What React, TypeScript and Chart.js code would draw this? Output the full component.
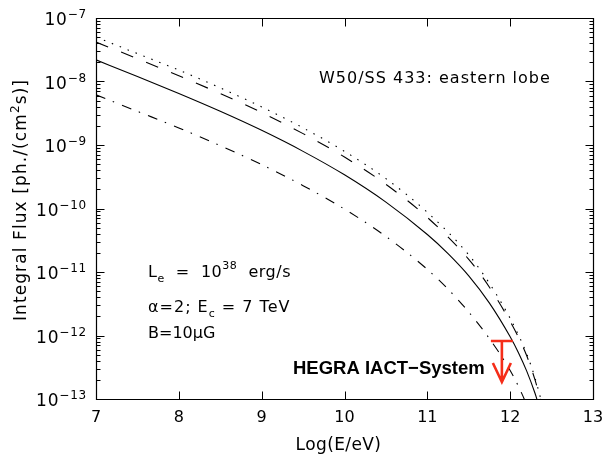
import React, { useEffect, useRef } from "react";
import { Chart, registerables } from "chart.js";

Chart.register(...registerables);

// ---- data (log10 E in eV, integral flux in ph/(cm^2 s)) ----
const solidE = [7, 7.5, 8, 8.5, 9, 9.5, 10, 10.5, 11, 11.25, 11.5, 11.75, 12, 12.1, 12.2, 12.3, 12.35];
const solidFlux = [2.19e-8, 1.2e-8, 6.46e-9, 3.39e-9, 1.7e-9, 7.94e-10, 3.39e-10, 1.26e-10, 3.89e-11, 1.95e-11, 8.71e-12, 3.24e-12, 9.55e-13, 5.37e-13, 2.75e-13, 1.23e-13, 7.59e-14];

const dashedE = [7, 7.5, 8, 8.5, 9, 9.5, 10, 10.5, 11, 11.5, 11.75, 12, 12.1, 12.2, 12.3, 12.35, 12.4];
const dashedFlux = [4.17e-8, 2.29e-8, 1.23e-8, 6.46e-9, 3.24e-9, 1.51e-9, 6.46e-10, 2.4e-10, 7.24e-11, 1.58e-11, 5.75e-12, 1.66e-12, 9.33e-13, 4.79e-13, 2.0e-13, 1.17e-13, 6.31e-14];

const dottedE = [7, 7.5, 8, 8.5, 9, 9.5, 10, 10.5, 11, 11.5, 11.75, 12, 12.1, 12.2, 12.3, 12.37, 12.45];
const dottedFlux = [5.01e-8, 2.75e-8, 1.51e-8, 7.94e-9, 3.98e-9, 1.86e-9, 7.94e-10, 2.95e-10, 8.71e-11, 1.86e-11, 6.61e-12, 1.86e-12, 1.02e-12, 5.13e-13, 2.14e-13, 1.0e-13, 3.98e-14];

const dashDotE = [7, 7.5, 8, 8.5, 9, 9.5, 10, 10.5, 11, 11.25, 11.5, 11.75, 12, 12.1, 12.2, 12.25];
const dashDotFlux = [6.17e-9, 3.39e-9, 1.86e-9, 9.77e-10, 4.9e-10, 2.29e-10, 9.77e-11, 3.63e-11, 1.1e-11, 5.37e-12, 2.34e-12, 8.91e-13, 2.82e-13, 1.58e-13, 7.94e-14, 5.01e-14];

// HEGRA IACT-System upper limit
const hegraE = 11.9;
const hegraUL = 8.2e-13;

// axes
const xTickValues = [7, 8, 9, 10, 11, 12, 13];
const yDecades = [-7, -8, -9, -10, -11, -12, -13];
const xMin = 7, xMax = 13, yMin = 1e-13, yMax = 1e-7;

const FAMILY = "'DejaVu Sans'";
const WEIGHT = "normal";
const font = (size: number, weight = WEIGHT) => `${weight} ${size}px ${FAMILY}`;

type Part = { t: string; size: number; dy?: number };

function drawRich(ctx: CanvasRenderingContext2D, parts: Part[], x: number, y: number, align: "left" | "right" | "center" = "left", spacing = "0px") {
  ctx.textAlign = "left";
  ctx.textBaseline = "alphabetic";
  (ctx as any).letterSpacing = spacing;
  const widths = parts.map((p) => {
    ctx.font = font(p.size);
    return ctx.measureText(p.t).width;
  });
  const total = widths.reduce((a, b) => a + b, 0);
  let cx = align === "right" ? x - total : align === "center" ? x - total / 2 : x;
  parts.forEach((p, i) => {
    ctx.font = font(p.size);
    ctx.fillText(p.t, cx, y + (p.dy || 0));
    cx += widths[i];
  });
  (ctx as any).letterSpacing = "0px";
}

const pts = (xs: number[], ys: number[]) => xs.map((x, i) => ({ x, y: ys[i] }));

const framePlugin = {
  id: "frameAndText",
  afterDraw(chart: any) {
    const ctx: CanvasRenderingContext2D = chart.ctx;
    const { left, right, top, bottom } = chart.chartArea;
    const xs = chart.scales.x;
    const ys = chart.scales.y;
    ctx.save();
    ctx.strokeStyle = "#000";
    ctx.fillStyle = "#000";
    ctx.lineWidth = 1.2;
    const L = Math.round(left) + 0.5, R = Math.round(right) + 0.5, T = Math.round(top) + 0.5, B = Math.round(bottom) + 0.5;
    ctx.beginPath();
    ctx.rect(L, T, R - L, B - T);
    ctx.stroke();

    ctx.lineWidth = 1;
    ctx.beginPath();
    xTickValues.forEach((v) => {
      const px = Math.round(xs.getPixelForValue(v)) + 0.5;
      ctx.moveTo(px, B);
      ctx.lineTo(px, B - 8);
      ctx.moveTo(px, T);
      ctx.lineTo(px, T + 8);
    });
    yDecades.forEach((d) => {
      const py = Math.round(ys.getPixelForValue(Math.pow(10, d))) + 0.5;
      ctx.moveTo(L, py);
      ctx.lineTo(L + 8, py);
      ctx.moveTo(R, py);
      ctx.lineTo(R - 8, py);
      if (d < -7) {
        for (let m = 2; m <= 9; m++) {
          const pm = Math.round(ys.getPixelForValue(m * Math.pow(10, d))) + 0.5;
          ctx.moveTo(L, pm);
          ctx.lineTo(L + 4, pm);
          ctx.moveTo(R, pm);
          ctx.lineTo(R - 4, pm);
        }
      }
    });
    ctx.stroke();

    // y tick labels 10^-n
    yDecades.forEach((d) => {
      const py = ys.getPixelForValue(Math.pow(10, d));
      drawRich(ctx, [
        { t: "10", size: 17, dy: 7 },
        { t: "\u2212" + String(-d), size: 12, dy: 0 },
      ], left - 9, py, "right", "0.8px");
    });

    // y title
    ctx.save();
    ctx.translate(26, 200);
    ctx.rotate(-Math.PI / 2);
    drawRich(ctx, [
      { t: "Integral Flux [ph./(cm", size: 17 },
      { t: "2", size: 12, dy: -7 },
      { t: "s)]", size: 17 },
    ], 0, 0, "center", "1.1px");
    ctx.restore();

    // x title
    drawRich(ctx, [{ t: "Log(E/eV)", size: 17 }], (left + right) / 2 - 6, 450, "center", "0.4px");

    // annotations
    drawRich(ctx, [{ t: "W50/SS 433: eastern lobe", size: 16 }], 319, 83, "left", "1px");
    drawRich(ctx, [
      { t: "L", size: 16 },
      { t: "e", size: 11, dy: 5 },
      { t: "  =  10", size: 16 },
      { t: "38", size: 11, dy: -8 },
      { t: "  erg/s", size: 16 },
    ], 148, 277, "left", "0.5px");
    drawRich(ctx, [
      { t: "\u03b1=2; E", size: 16 },
      { t: "c", size: 11, dy: 5 },
      { t: " = 7 TeV", size: 16 },
    ], 148, 312, "left", "1px");
    drawRich(ctx, [{ t: "B=10\u03bcG", size: 16 }], 148, 338, "left", "0px");

    // HEGRA label
    ctx.font = "bold 18.5px 'Liberation Sans', Arial, sans-serif";
    ctx.textAlign = "left";
    ctx.textBaseline = "alphabetic";
    ctx.fillText("HEGRA IACT\u2212System", 293, 374);

    // HEGRA upper limit arrow
    const hx = xs.getPixelForValue(hegraE);
    const hy = ys.getPixelForValue(hegraUL);
    ctx.strokeStyle = "rgb(245,45,25)";
    ctx.lineWidth = 2.6;
    ctx.lineCap = "butt";
    ctx.beginPath();
    ctx.moveTo(hx - 11, hy);
    ctx.lineTo(hx + 11, hy);
    ctx.moveTo(hx, hy);
    ctx.lineTo(hx, hy + 40);
    ctx.moveTo(hx - 9, hy + 22);
    ctx.lineTo(hx, hy + 41);
    ctx.lineTo(hx + 9, hy + 22);
    ctx.stroke();

    ctx.restore();
  },
};

export default function App() {
  const ref = useRef<HTMLCanvasElement | null>(null);
  useEffect(() => {
    if (!ref.current) return;
    const common = {
      borderColor: "#000",
      borderWidth: 1.1,
      pointRadius: 0,
      fill: false,
      cubicInterpolationMode: "monotone" as const,
    };
    const chart = new Chart(ref.current, {
      type: "line",
      data: {
        datasets: [
          { ...common, label: "dotted", data: pts(dottedE, dottedFlux), borderDash: [1.5, 7] },
          { ...common, label: "dashed", data: pts(dashedE, dashedFlux), borderDash: [13, 14] },
          { ...common, label: "solid", data: pts(solidE, solidFlux) },
          { ...common, label: "dash-dot", data: pts(dashDotE, dashDotFlux), borderDash: [10, 8, 1.5, 8.5] },
        ],
      },
      options: {
        animation: false,
        responsive: false,
        events: [],
        layout: { padding: { top: 18, right: 20, left: 0, bottom: 0 } },
        plugins: { legend: { display: false }, tooltip: { enabled: false }, title: { display: false } },
        scales: {
          x: {
            type: "linear",
            min: xMin,
            max: xMax,
            grid: { display: false, drawTicks: false },
            border: { display: false },
            ticks: {
              stepSize: 1,
              padding: 9,
              color: "#000",
              font: { family: FAMILY, size: 16, weight: "normal" as any },
              maxRotation: 0,
            },
            afterFit: (s: any) => {
              s.height = 71;
            },
          },
          y: {
            type: "logarithmic",
            min: yMin,
            max: yMax,
            grid: { display: false, drawTicks: false },
            border: { display: false },
            ticks: { display: false },
            afterFit: (s: any) => {
              s.width = 96;
            },
          },
        },
      },
      plugins: [framePlugin],
    });
    return () => chart.destroy();
  }, []);
  return (
    <div style={{ position: "fixed", left: 0, top: 0, width: 613, height: 470, background: "#fff" }}>
      <canvas ref={ref} width={613} height={470} style={{ display: "block", width: 613, height: 470 }} />
    </div>
  );
}
